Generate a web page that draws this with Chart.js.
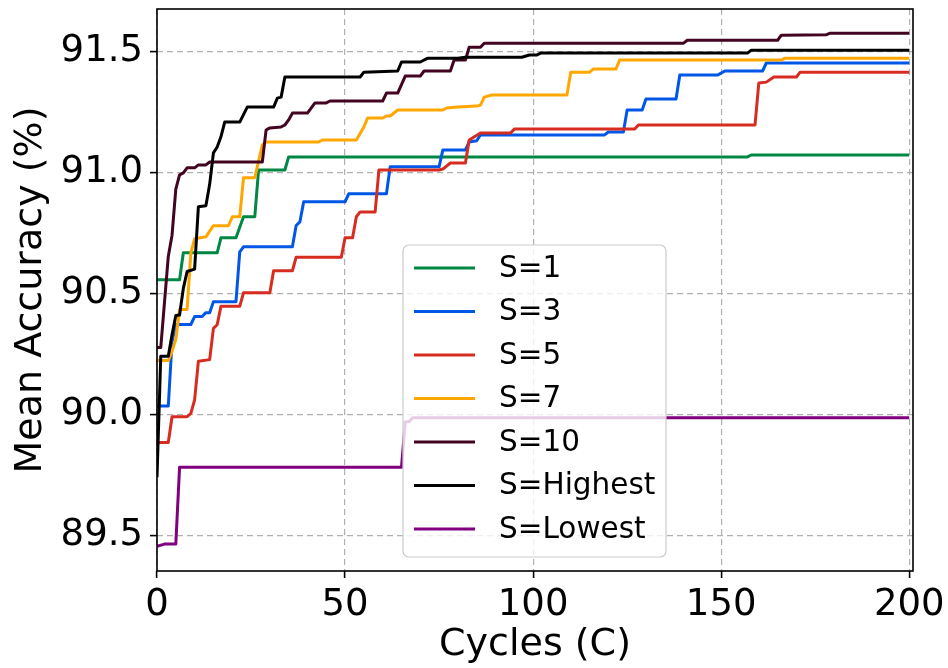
<!DOCTYPE html>
<html>
<head>
<meta charset="utf-8">
<script src="https://cdn.jsdelivr.net/npm/chart.js@4.4.0/dist/chart.umd.min.js"></script>
<style>
  html, body { margin: 0; padding: 0; background: #fff; }
</style>
</head>
<body>
<canvas id="accChart" width="948" height="668"></canvas>
<script>
// breakpoints [cycle, mean accuracy %]
const s1 = [[0,90.556],[6,90.556],[7,90.667],[16,90.667],[17,90.729],[21,90.729],[23,90.816],[26,90.816],[27,91.009],[34,91.009],[35,91.063],[157,91.063],[158,91.071],[200,91.071]];
const s3 = [[0,90.034],[3,90.034],[4,90.30],[5,90.371],[9,90.371],[10,90.404],[12,90.404],[13,90.42],[14,90.42],[15,90.465],[21,90.465],[22,90.671],[23,90.692],[36,90.692],[37,90.78],[38,90.795],[39,90.878],[50,90.878],[51,90.911],[61,90.911],[62,91.022],[75,91.022],[76,91.092],[82,91.092],[83,91.125],[85,91.13],[86,91.154],[119,91.154],[120,91.166],[124,91.166],[125,91.257],[129,91.257],[130,91.302],[138,91.302],[139,91.401],[149,91.401],[151,91.418],[161,91.418],[162,91.451],[200,91.451]];
const s5 = [[0,89.884],[3,89.884],[4,89.99],[8,89.99],[9,90.004],[10,90.06],[11,90.219],[14,90.226],[15,90.355],[16,90.37],[17,90.446],[22,90.446],[23,90.502],[30,90.502],[31,90.593],[36,90.593],[37,90.649],[49,90.649],[50,90.729],[52,90.729],[53,90.816],[54,90.836],[58,90.836],[59,91.009],[75,91.009],[76,91.013],[78,91.038],[82,91.038],[83,91.133],[86,91.162],[94,91.162],[95,91.178],[127,91.178],[128,91.195],[159,91.195],[160,91.368],[162,91.372],[164,91.393],[170,91.393],[171,91.413],[200,91.413]];
const s7 = [[0,90.222],[3,90.222],[4,90.26],[5,90.31],[6,90.433],[8,90.433],[9,90.667],[10,90.725],[13,90.733],[15,90.779],[19,90.779],[20,90.816],[22,90.816],[23,90.977],[26,90.977],[28,91.113],[29,91.125],[43,91.125],[44,91.133],[53,91.133],[55,91.187],[56,91.224],[60,91.224],[61,91.232],[62,91.232],[64,91.257],[76,91.257],[77,91.265],[80,91.269],[85,91.273],[86,91.277],[87,91.31],[89,91.319],[109,91.319],[110,91.413],[115,91.413],[116,91.426],[122,91.426],[123,91.463],[166,91.463],[167,91.471],[200,91.471]];
const s10 = [[0,90.276],[1,90.276],[3,90.652],[4,90.74],[5,90.93],[6,90.989],[7,90.997],[8,91.018],[10,91.018],[11,91.03],[13,91.03],[14,91.042],[28,91.042],[29,91.174],[30,91.183],[33,91.187],[34,91.195],[35,91.216],[36,91.244],[40,91.244],[42,91.286],[45,91.286],[46,91.294],[60,91.294],[61,91.327],[64,91.327],[66,91.397],[70,91.397],[71,91.418],[78,91.418],[79,91.463],[82,91.463],[83,91.516],[86,91.516],[87,91.533],[140,91.533],[141,91.545],[165,91.545],[166,91.566],[178,91.568],[179,91.574],[200,91.574]];
const sHighest = [[0,89.74],[1,90.24],[3,90.24],[4,90.33],[5,90.408],[6,90.41],[7,90.52],[8,90.59],[10,90.6],[11,90.857],[13,90.861],[14,90.95],[15,91.08],[16,91.104],[17,91.146],[18,91.207],[22,91.207],[24,91.269],[31,91.269],[32,91.306],[33,91.31],[34,91.393],[54,91.393],[55,91.413],[64,91.418],[65,91.455],[70,91.455],[72,91.471],[80,91.471],[82,91.475],[97,91.475],[99,91.484],[101,91.484],[102,91.492],[157,91.492],[158,91.504],[200,91.504]];
const sLowest = [[0,89.455],[2,89.464],[5,89.464],[6,89.781],[65,89.781],[66,89.968],[67,89.97],[68,89.986],[200,89.986]];

const seriesNames = ['S=1', 'S=3', 'S=5', 'S=7', 'S=10', 'S=Highest', 'S=Lowest'];
const seriesData = [s1, s3, s5, s7, s10, sHighest, sLowest];
const seriesColors = ['#008744', '#0057e7', '#d62d20', '#ffa700', '#420420', '#000000', '#800080'];

const xTicks = [0, 50, 100, 150, 200];
const xTickLabels = ['0', '50', '100', '150', '200'];
const yTicks = [89.5, 90.0, 90.5, 91.0, 91.5];
const yTickLabels = ['89.5', '90.0', '90.5', '91.0', '91.5'];

const FONT = 'DejaVu Sans';

// frame round the plot area + legend box, drawn above the lines
const framePlugin = {
  id: 'frame',
  afterDatasetsDraw(chart) {
    const { ctx, chartArea: a } = chart;
    ctx.save();
    ctx.strokeStyle = '#000';
    ctx.lineWidth = 1.6;
    ctx.strokeRect(a.left, a.top, a.right - a.left, a.bottom - a.top);

    // legend (matplotlib style, framealpha 0.8)
    const lx = 403, ly = 245, lw = 263, lh = 312, r = 6;
    ctx.beginPath();
    ctx.moveTo(lx + r, ly);
    ctx.arcTo(lx + lw, ly, lx + lw, ly + lh, r);
    ctx.arcTo(lx + lw, ly + lh, lx, ly + lh, r);
    ctx.arcTo(lx, ly + lh, lx, ly, r);
    ctx.arcTo(lx, ly, lx + lw, ly, r);
    ctx.closePath();
    ctx.fillStyle = 'rgba(255,255,255,0.8)';
    ctx.fill();
    ctx.strokeStyle = '#cccccc';
    ctx.lineWidth = 1.2;
    ctx.stroke();

    ctx.font = '29.5px "' + FONT + '"';
    ctx.textBaseline = 'middle';
    ctx.textAlign = 'left';
    chart.data.datasets.forEach((ds, i) => {
      const y = 268 + i * 43.5;
      ctx.strokeStyle = ds.borderColor;
      ctx.lineWidth = 2.8;
      ctx.beginPath();
      ctx.moveTo(414, y);
      ctx.lineTo(475, y);
      ctx.stroke();
      ctx.fillStyle = '#000';
      ctx.fillText(ds.label, 499, y + 1);
    });
    ctx.restore();
  }
};

const ctx = document.getElementById('accChart').getContext('2d');
const chart = new Chart(ctx, {
  type: 'line',
  data: {
    datasets: seriesData.map((pts, i) => ({
      label: seriesNames[i],
      data: pts.map(p => ({ x: p[0], y: p[1] })),
      borderColor: seriesColors[i],
      backgroundColor: seriesColors[i],
      borderWidth: 3,
      pointRadius: 0,
      tension: 0,
      borderJoinStyle: 'round',
      order: seriesData.length - i,
    })),
  },
  options: {
    responsive: false,
    animation: false,
    devicePixelRatio: 1,
    layout: { padding: { top: 9, right: 35, left: 0, bottom: 0 } },
    plugins: { legend: { display: false }, tooltip: { enabled: false } },
    scales: {
      x: {
        type: 'linear',
        min: 0,
        max: 201,
        afterFit: s => { s.height = 97; s.paddingLeft = 0; s.paddingRight = 0; },
        afterBuildTicks: s => { s.ticks = xTicks.map(v => ({ value: v })); },
        ticks: {
          font: { family: FONT, size: 37 },
          color: '#000',
          padding: 5,
          maxRotation: 0,
          autoSkip: false,
          callback: (v, i) => xTickLabels[i],
        },
        grid: { color: '#b0b0b0', lineWidth: 1.2, tickLength: 7, tickColor: '#000', tickWidth: 1.6, tickBorderDash: [] },
        border: { display: false, dash: [6, 4] },
        title: {
          display: true,
          text: 'Cycles (C)',
          font: { family: FONT, size: 38 },
          color: '#000',
          padding: { top: 0, bottom: 0 },
        },
      },
      y: {
        type: 'linear',
        min: 89.353,
        max: 91.674,
        afterFit: s => { s.width = 157; s.paddingTop = 0; s.paddingBottom = 0; },
        afterBuildTicks: s => { s.ticks = yTicks.map(v => ({ value: v })); },
        ticks: {
          font: { family: FONT, size: 37 },
          color: '#000',
          padding: 7,
          autoSkip: false,
          callback: (v, i) => yTickLabels[i],
        },
        grid: { color: '#b0b0b0', lineWidth: 1.2, tickLength: 7, tickColor: '#000', tickWidth: 1.6, tickBorderDash: [] },
        border: { display: false, dash: [6, 4] },
        title: {
          display: true,
          text: 'Mean Accuracy (%)',
          font: { family: FONT, size: 38 },
          color: '#000',
          padding: { top: 8, bottom: 0 },
        },
      },
    },
  },
  plugins: [framePlugin],
});
</script>
</body>
</html>
